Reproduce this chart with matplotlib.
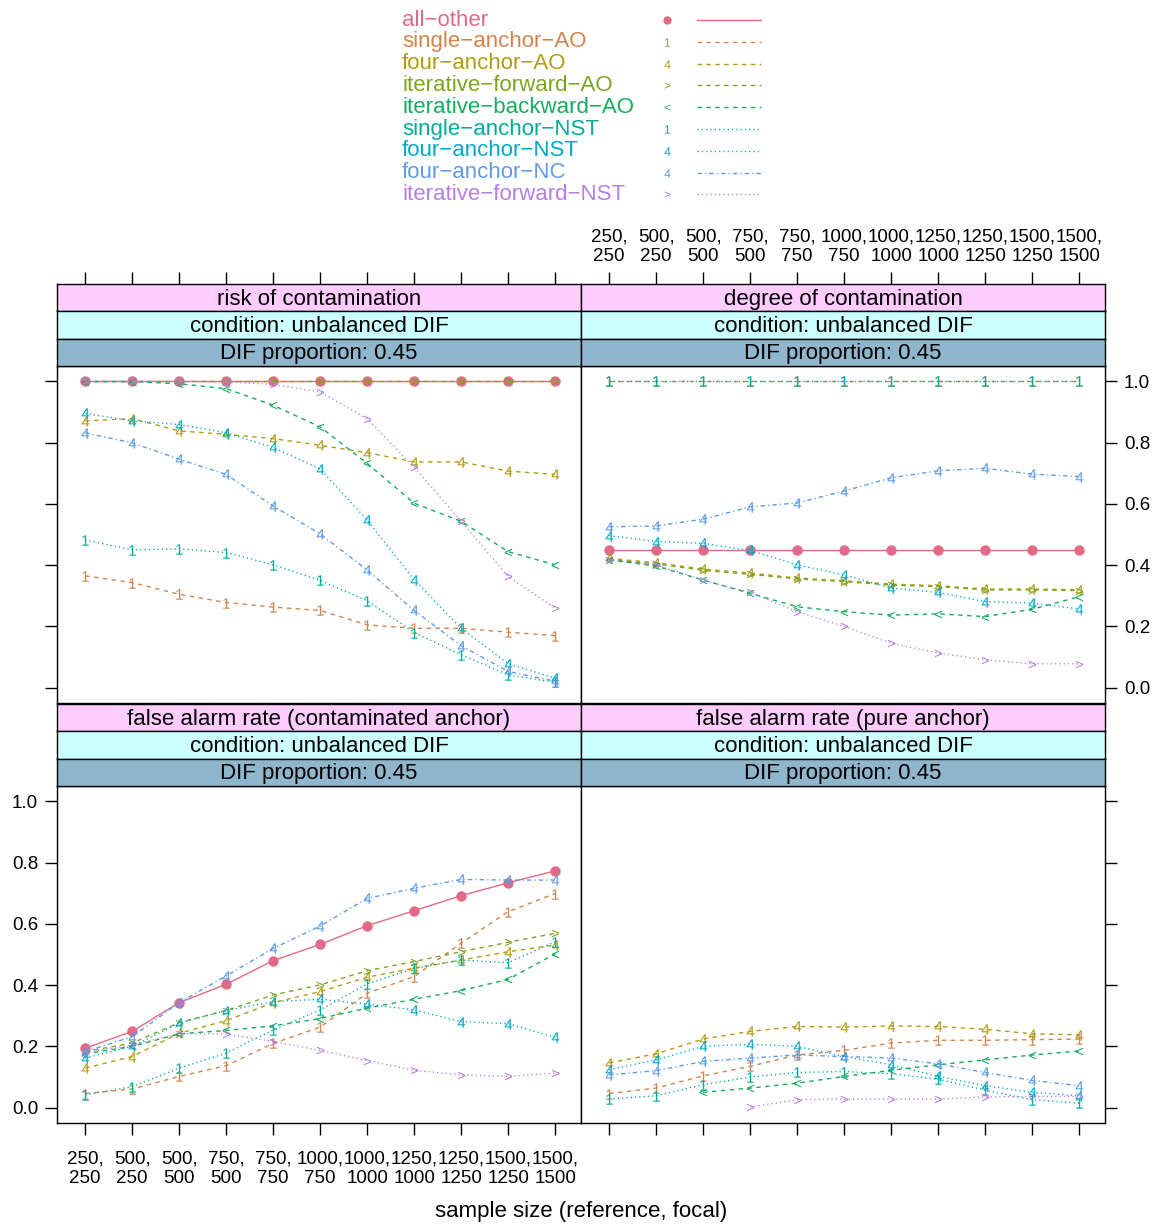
import numpy as np
import matplotlib.pyplot as plt

plt.rcParams["font.family"] = ["Liberation Sans", "DejaVu Sans"]
plt.rcParams["mathtext.default"] = "regular"

nan = np.nan

sizes = ["250,\n250", "500,\n250", "500,\n500", "750,\n500", "750,\n750",
         "1000,\n750", "1000,\n1000", "1250,\n1000", "1250,\n1250",
         "1500,\n1250", "1500,\n1500"]
panel_titles = ["risk of contamination", "degree of contamination",
                "false alarm rate (contaminated anchor)",
                "false alarm rate (pure anchor)"]
condition_label = "condition: unbalanced DIF"
proportion_label = "DIF proportion: 0.45"

methods = ["all\u2212other", "single\u2212anchor\u2212AO", "four\u2212anchor\u2212AO",
           "iterative\u2212forward\u2212AO", "iterative\u2212backward\u2212AO",
           "single\u2212anchor\u2212NST", "four\u2212anchor\u2212NST",
           "four\u2212anchor\u2212NC", "iterative\u2212forward\u2212NST"]

# each method: [risk, degree, false alarm (contaminated), false alarm (pure)]
all_other = [
    [1.0] * 11,
    [0.45] * 11,
    [0.194, 0.249, 0.343, 0.403, 0.480, 0.533, 0.594, 0.643, 0.692, 0.734, 0.773],
    [nan] * 11,
]
single_anchor_ao = [
    [0.365, 0.343, 0.305, 0.278, 0.263, 0.252, 0.205, 0.194, 0.194, 0.181, 0.170],
    [1.0] * 11,
    [0.046, 0.061, 0.102, 0.137, 0.210, 0.263, 0.374, 0.428, 0.537, 0.640, 0.699],
    [0.046, 0.064, 0.104, 0.135, 0.172, 0.187, 0.211, 0.220, 0.220, 0.222, 0.224],
]
four_anchor_ao = [
    [0.871, 0.878, 0.838, 0.827, 0.813, 0.791, 0.767, 0.737, 0.737, 0.707, 0.696],
    [0.422, 0.408, 0.387, 0.374, 0.358, 0.349, 0.338, 0.333, 0.322, 0.322, 0.320],
    [0.129, 0.167, 0.243, 0.284, 0.343, 0.379, 0.426, 0.455, 0.482, 0.509, 0.531],
    [0.146, 0.176, 0.224, 0.249, 0.265, 0.263, 0.267, 0.265, 0.256, 0.241, 0.238],
]
iterative_forward_ao = [
    [1.0] * 11,
    [0.418, 0.404, 0.383, 0.370, 0.355, 0.346, 0.335, 0.330, 0.319, 0.319, 0.317],
    [0.183, 0.211, 0.278, 0.317, 0.368, 0.401, 0.447, 0.477, 0.509, 0.540, 0.569],
    [nan] * 11,
]
iterative_backward_ao = [
    [0.999, 0.999, 0.992, 0.976, 0.922, 0.851, 0.732, 0.602, 0.543, 0.444, 0.401],
    [0.417, 0.397, 0.351, 0.308, 0.264, 0.248, 0.237, 0.241, 0.232, 0.256, 0.297],
    [0.176, 0.200, 0.241, 0.252, 0.267, 0.291, 0.325, 0.354, 0.382, 0.419, 0.502],
    [nan, nan, 0.050, 0.064, 0.080, 0.102, 0.122, 0.140, 0.156, 0.172, 0.185],
]
single_anchor_nst = [
    [0.482, 0.450, 0.453, 0.441, 0.401, 0.350, 0.284, 0.180, 0.107, 0.042, 0.017],
    [1.0] * 11,
    [0.042, 0.069, 0.129, 0.178, 0.254, 0.319, 0.404, 0.455, 0.482, 0.473, 0.542],
    [0.028, 0.039, 0.075, 0.100, 0.115, 0.118, 0.111, 0.093, 0.057, 0.026, 0.015],
]
four_anchor_nst = [
    [0.895, 0.871, 0.859, 0.832, 0.784, 0.714, 0.547, 0.352, 0.194, 0.078, 0.031],
    [0.496, 0.477, 0.471, 0.448, 0.401, 0.368, 0.325, 0.311, 0.281, 0.276, 0.257],
    [0.162, 0.200, 0.276, 0.317, 0.346, 0.354, 0.338, 0.319, 0.281, 0.274, 0.230],
    [0.124, 0.156, 0.200, 0.207, 0.200, 0.167, 0.140, 0.102, 0.072, 0.050, 0.039],
]
four_anchor_nc = [
    [0.832, 0.799, 0.746, 0.696, 0.593, 0.502, 0.384, 0.252, 0.137, 0.053, 0.021],
    [0.525, 0.528, 0.550, 0.590, 0.603, 0.642, 0.685, 0.708, 0.716, 0.697, 0.689],
    [0.183, 0.232, 0.343, 0.430, 0.520, 0.593, 0.683, 0.716, 0.745, 0.743, 0.743],
    [0.107, 0.121, 0.151, 0.162, 0.172, 0.167, 0.162, 0.143, 0.115, 0.089, 0.072],
]
iterative_forward_nst = [
    [1.0, 1.0, 1.0, 0.998, 0.990, 0.965, 0.878, 0.720, 0.543, 0.363, 0.260],
    [0.417, 0.401, 0.351, 0.311, 0.248, 0.200, 0.145, 0.113, 0.091, 0.078, 0.078],
    [0.180, 0.205, 0.241, 0.241, 0.216, 0.187, 0.154, 0.122, 0.107, 0.102, 0.113],
    [nan, nan, nan, 0.002, 0.026, 0.028, 0.028, 0.028, 0.035, 0.037, 0.037],
]

series = [all_other, single_anchor_ao, four_anchor_ao, iterative_forward_ao,
          iterative_backward_ao, single_anchor_nst, four_anchor_nst,
          four_anchor_nc, iterative_forward_nst]

colors = ["#E16A86", "#D3844C", "#B39B10", "#7BA51E", "#13AD5B",
          "#00AD9A", "#00AAC8", "#5E9CE6", "#B57FE3"]
symbols = ["o", "$1$", "$4$", "$>$", "$<$", "$1$", "$4$", "$4$", "$>$"]
msizes = [7.5, 7.5, 7.5, 5.5, 5.5, 7.5, 7.5, 7.5, 5.5]
dashed = (0, (3.2, 3.2))
dotted = (0, (0.9, 2.2))
dashdot = (0, (3.2, 2.2, 0.9, 2.2))
styles = ["-", dashed, dashed, dashed, dashed, dotted, dotted, dashdot, dotted]

W, H = 1161, 1224
fig = plt.figure(figsize=(W / 100, H / 100), dpi=100)


def px_axes(x, y_top, w, h):
    return fig.add_axes([x / W, 1 - (y_top + h) / H, w / W, h / H])


col_x = [57, 581]
col_w = 524
row_top = [366, 786]
plot_h = 337
strip_h = 27.3
strip_colors = ["#FFCCFF", "#CCFFFF", "#8FB6CC"]
xs = np.arange(1, 12)
xlim = (0.4, 11.55)
ylim = (-0.05, 1.05)
yticks = [0.0, 0.2, 0.4, 0.6, 0.8, 1.0]
tick_kw = dict(length=8.6, width=1.0, color="black", labelsize=13.5)

for k in range(4):
    r, c = divmod(k, 2)
    ax = px_axes(col_x[c], row_top[r], col_w, plot_h)
    for vals, col, sym, ms, ls in zip(series, colors, symbols, msizes, styles):
        ax.plot(xs, vals[k], color=col, lw=1.0, linestyle=ls, marker=sym,
                markersize=ms, markeredgewidth=0,
                markerfacecolor=col, markeredgecolor=col)
    ax.set_xlim(xlim)
    ax.set_ylim(ylim)
    for sp in ax.spines.values():
        sp.set_linewidth(1.0)
    ax.set_xticks(xs)
    ax.set_yticks(yticks)
    ax.set_yticklabels([f"{v:.1f}" for v in yticks])
    ax.tick_params(axis="y", direction="out", pad=5, **tick_kw)
    ax.tick_params(axis="x", direction="out", pad=11, **tick_kw)
    if c == 0:
        ax.tick_params(axis="y", left=True, right=False,
                       labelleft=(r == 1), labelright=False)
    else:
        ax.tick_params(axis="y", left=False, right=True,
                       labelleft=False, labelright=(r == 0))
    if r == 1:
        ax.set_xticklabels(sizes)
        ax.tick_params(axis="x", bottom=True, top=False,
                       labelbottom=(c == 0), labeltop=False)
    else:
        ax.tick_params(axis="x", bottom=False, top=False,
                       labelbottom=False, labeltop=False)

    labels = [panel_titles[k], condition_label, proportion_label]
    for j in range(3):
        sax = px_axes(col_x[c], row_top[r] - (3 - j) * strip_h, col_w, strip_h)
        sax.set_facecolor(strip_colors[j])
        sax.set_xlim(xlim)
        sax.set_ylim(0, 1)
        sax.set_yticks([])
        for sp in sax.spines.values():
            sp.set_linewidth(1.0)
        sax.text(0.5, 0.45, labels[j], transform=sax.transAxes,
                 ha="center", va="center", fontsize=16)
        if r == 0 and j == 0:
            sax.set_xticks(xs)
            sax.set_xticklabels(sizes)
            sax.tick_params(axis="x", direction="out", bottom=False, top=True,
                            labelbottom=False, labeltop=(c == 1), pad=5,
                            **tick_kw)
        else:
            sax.set_xticks([])

fig.text(581 / W, 1 - 1212 / H, "sample size (reference, focal)",
         ha="center", va="center", fontsize=16)

# legend: label, symbol, line sample
lax = px_axes(395, 5, 380, 205)
lax.set_xlim(395, 775)
lax.set_ylim(210, 5)
lax.axis("off")
for i, (name, col, sym, ms, ls) in enumerate(zip(methods, colors, symbols,
                                                  msizes, styles)):
    y = 20 + i * 21.8
    lax.text(402, y, name, color=col, fontsize=16, ha="left", va="center")
    lax.plot([667], [y], marker=sym, color=col, markersize=ms * 0.8,
             markeredgewidth=0, linestyle="none")
    lax.plot([697, 761], [y, y], color=col, lw=1.0, linestyle=ls)

fig.savefig("out.png", dpi=100)
